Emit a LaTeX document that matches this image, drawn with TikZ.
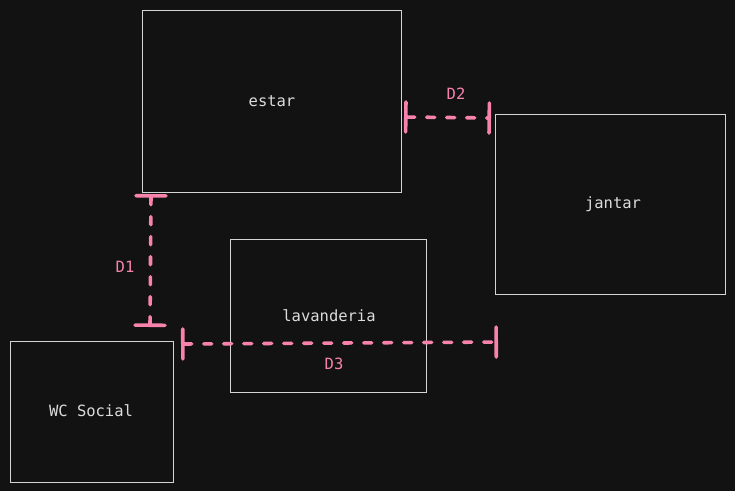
\documentclass[tikz,border=0pt]{standalone}
\usepackage{fontspec}
\setmonofont{DejaVu Sans Mono}
\usetikzlibrary{arrows.meta}
\definecolor{bg}{HTML}{121212}
\definecolor{edge}{HTML}{D4D4D4}
\definecolor{txt}{HTML}{DCDCDC}
\definecolor{pinkc}{HTML}{F783AC}
\tikzset{
  room/.style={draw=edge, line width=1pt, fill=bg, inner sep=0pt},
  roomlabel/.style={text=txt, font=\ttfamily\fontsize{15.5}{17}\selectfont},
  dimlabel/.style={text=pinkc, font=\ttfamily\fontsize{15.5}{17}\selectfont},
  dimline/.style={draw=pinkc, line width=3.6pt, dash pattern=on 8pt off 12pt, line cap=round,
    {Bar[width=30pt,line width=3.6pt,round]}-{Bar[width=30pt,line width=3.6pt,round]}},
}
\begin{document}
\begin{tikzpicture}[x=1pt,y=-1pt]
\fill[bg] (0,0) rectangle (735,491);
\useasboundingbox (0,0) rectangle (735,491);
% rooms
\draw[room] (142,10) rectangle (401,192);
\node[roomlabel] (estar) at (272,101) {estar};
\draw[room] (495,114) rectangle (725,294);
\node[roomlabel] (jantar) at (613,204) {jantar};
\draw[room] (230,239) rectangle (426,392);
\node[roomlabel] (lavanderia) at (329,316) {lavanderia};
\draw[room] (10,341) rectangle (173,482);
\node[roomlabel] (wc) at (91,411) {WC Social};
% dimension endpoints
\coordinate (d1a) at (151,194);
\coordinate (d1b) at (150,327);
\coordinate (d2a) at (404,117);
\coordinate (d2b) at (491,118);
\coordinate (d3a) at (181,344);
\coordinate (d3b) at (498,342);
\draw[dimline] (d1a) -- (d1b);
\draw[dimline] (d2a) -- (d2b);
\draw[dimline] (d3a) -- (d3b);
\node[dimlabel] (D1) at (125,267) {D1};
\node[dimlabel] (D2) at (456,94) {D2};
\node[dimlabel] (D3) at (334,364) {D3};
\end{tikzpicture}
\end{document}
